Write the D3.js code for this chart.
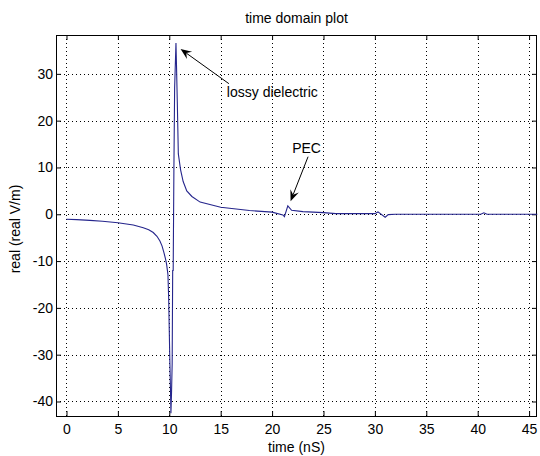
<!DOCTYPE html>
<html>
<head>
<meta charset="utf-8">
<style>
  body { margin: 0; background: #fff; }
  text { font-family: "Liberation Sans", Arial, sans-serif; font-size: 14px; fill: #000; }
</style>
</head>
<body>
<svg width="540" height="456"></svg>
<script src="https://cdn.jsdelivr.net/npm/d3@7"></script>
<script>

// time (nS) and real field value
var time = [0, 1, 2.27, 3.5, 5, 6.5, 7.47, 8.0, 8.44, 8.8, 9.09, 9.3, 9.48, 9.62, 9.74, 9.87, 9.94,
  10.0, 10.06, 10.12, 10.16, 10.22, 10.28, 10.33, 10.38, 10.45, 10.52, 10.65, 10.7, 10.78, 10.88,
  11.1, 11.35, 11.7, 12.2, 13, 15, 17.8, 20, 21.05, 21.2, 21.53, 21.9, 23, 25, 26.2, 28, 30,
  30.3, 31, 31.3, 32, 35, 38, 40.3, 40.6, 40.9, 43, 45.8];
var realV = [-1.07, -1.15, -1.3, -1.5, -1.8, -2.3, -2.9, -3.3, -3.9, -4.7, -5.7, -6.8, -8.2, -9.4,
  -10.7, -12.9, -17.9, -25, -32, -38, -42.5, -38, -32, -12, -12, 10, 27, 36.6, 32, 24, 12.9,
  9.5, 7, 5, 3.8, 2.6, 1.5, 0.8, 0.45, -0.15, -0.5, 1.8, 0.86, 0.57, 0.36, 0.14, 0.14, 0.14,
  0.5, -0.64, -0.07, 0, 0, 0, 0, 0.3, 0, 0, 0];

var xTicks = [0, 5, 10, 15, 20, 25, 30, 35, 40, 45];
var yTicks = [-40, -30, -20, -10, 0, 10, 20, 30];

// annotations: text position and arrow tail / tip, in data units
var notes = [
  { label: "lossy dielectric", tx: 15.6, ty: 26.1, from: [15.8, 27.9], to: [11.1, 35.3] },
  { label: "PEC", tx: 21.95, ty: 14.1, from: [23.5, 12.3], to: [21.8, 2.8] }
];

var svg = d3.select("svg");
var pLeft = 56, pRight = 537, pTop = 35, pBottom = 416;

var x = d3.scaleLinear().domain([-1.02, 45.77]).range([pLeft, pRight]);
var y = d3.scaleLinear().domain([-43.1, 38.3]).range([pBottom, pTop]);
var fmt = d => String(d);

// dotted grid
svg.append("g").selectAll("line").data(xTicks).enter().append("line")
  .attr("x1", d => Math.round(x(d)) + 0.5).attr("x2", d => Math.round(x(d)) + 0.5)
  .attr("y1", pTop).attr("y2", pBottom)
  .attr("stroke", "#000").attr("stroke-dasharray", "1,3");
svg.append("g").selectAll("line").data(yTicks).enter().append("line")
  .attr("y1", d => Math.round(y(d)) + 0.5).attr("y2", d => Math.round(y(d)) + 0.5)
  .attr("x1", pLeft).attr("x2", pRight)
  .attr("stroke", "#000").attr("stroke-dasharray", "1,3");

// axes with inward ticks on all four sides
var xb = svg.append("g").attr("transform", "translate(0," + pBottom + ")")
  .call(d3.axisBottom(x).tickValues(xTicks).tickSizeInner(-5).tickSizeOuter(0).tickPadding(8).tickFormat(fmt));
var xt = svg.append("g").attr("transform", "translate(0," + pTop + ")")
  .call(d3.axisTop(x).tickValues(xTicks).tickSizeInner(-5).tickSizeOuter(0).tickFormat(""));
var yl = svg.append("g").attr("transform", "translate(" + pLeft + ",0)")
  .call(d3.axisLeft(y).tickValues(yTicks).tickSizeInner(-5).tickSizeOuter(0).tickPadding(3).tickFormat(fmt));
var yr = svg.append("g").attr("transform", "translate(" + pRight + ",0)")
  .call(d3.axisRight(y).tickValues(yTicks).tickSizeInner(-5).tickSizeOuter(0).tickFormat(""));
[xb, xt, yl, yr].forEach(function(g) {
  g.select(".domain").remove();
  g.selectAll("text").style("font-family", "Liberation Sans, Arial, sans-serif").style("font-size", "14px");
});

// the box
svg.append("rect")
  .attr("x", pLeft + 0.5).attr("y", pTop + 0.5)
  .attr("width", pRight - pLeft - 1).attr("height", pBottom - pTop)
  .attr("fill", "none").attr("stroke", "#000");

// data line
var line = d3.line().x((d, i) => x(time[i])).y(d => y(d));
svg.append("path")
  .attr("d", line(realV))
  .attr("fill", "none")
  .attr("stroke", "#25258c")
  .attr("stroke-width", 1.1);

// annotations
notes.forEach(function(n) {
  var x0 = x(n.from[0]), y0 = y(n.from[1]), x1 = x(n.to[0]), y1 = y(n.to[1]);
  var ang = Math.atan2(y1 - y0, x1 - x0);
  var len = 11, wid = 4.5, back = 7;
  svg.append("line")
    .attr("x1", x0).attr("y1", y0).attr("x2", x1 - Math.cos(ang) * back).attr("y2", y1 - Math.sin(ang) * back)
    .attr("stroke", "#000").attr("stroke-width", 1);
  var bx = x1 - Math.cos(ang) * len, by = y1 - Math.sin(ang) * len;
  var mx = x1 - Math.cos(ang) * back, my = y1 - Math.sin(ang) * back;
  var px = -Math.sin(ang) * wid, py = Math.cos(ang) * wid;
  svg.append("path")
    .attr("d", "M" + x1 + "," + y1 + "L" + (bx + px) + "," + (by + py) + "L" + mx + "," + my +
      "L" + (bx - px) + "," + (by - py) + "Z")
    .attr("fill", "#000");
  svg.append("text")
    .attr("x", x(n.tx)).attr("y", y(n.ty)).attr("dy", "0.35em")
    .text(n.label);
});

// title and axis labels
svg.append("text").attr("x", (pLeft + pRight) / 2).attr("y", 23)
  .attr("text-anchor", "middle").text("time domain plot");
svg.append("text").attr("x", (pLeft + pRight) / 2).attr("y", 452)
  .attr("text-anchor", "middle").text("time (nS)");
svg.append("text")
  .attr("transform", "translate(20,229) rotate(-90)")
  .attr("text-anchor", "middle").text("real (real V/m)");

</script>
</body>
</html>
